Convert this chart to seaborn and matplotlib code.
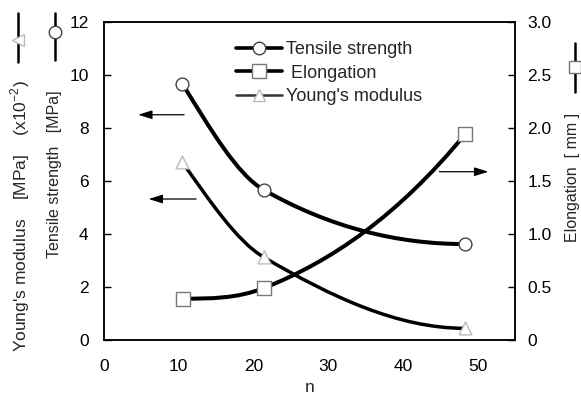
import matplotlib
matplotlib.use("Agg")
import matplotlib.pyplot as plt
import numpy as np
import seaborn as sns
from matplotlib.path import Path
from matplotlib.patches import PathPatch
from matplotlib.lines import Line2D

# values
n_tensile = [10.5, 21.4, 48.3]
tensile_strength = [9.66, 5.66, 3.62]      # MPa
n_young = [10.5, 21.4, 48.3]
youngs_modulus = [6.70, 3.12, 0.44]        # MPa x10^-2
n_elong = [10.6, 21.4, 48.3]
elongation = [0.39, 0.49, 1.94]            # mm

x_ticks = [0, 10, 20, 30, 40, 50]
left_ticks = [0, 2, 4, 6, 8, 10, 12]
right_ticks = [0, 0.5, 1.0, 1.5, 2.0, 2.5, 3.0]
right_tick_labels = ["0", "0.5", "1.0", "1.5", "2.0", "2.5", "3.0"]

sns.set_theme(style="white")
plt.rcParams["font.family"] = ["Liberation Sans", "DejaVu Sans"]
plt.rcParams["mathtext.fontset"] = "custom"
plt.rcParams["mathtext.rm"] = "Liberation Sans"


def smooth_path(x, y):
    """Monotone cubic Hermite curve through the points, as a bezier Path."""
    x = np.asarray(x, float)
    y = np.asarray(y, float)
    h = np.diff(x)
    d = np.diff(y) / h
    m = np.zeros_like(y)
    m[1:-1] = (y[2:] - y[:-2]) / (x[2:] - x[:-2])
    m[0] = ((2 * h[0] + h[1]) * d[0] - h[0] * d[1]) / (h[0] + h[1])
    if np.sign(m[0]) != np.sign(d[0]):
        m[0] = 0
    m[-1] = ((2 * h[-1] + h[-2]) * d[-1] - h[-1] * d[-2]) / (h[-1] + h[-2])
    if np.sign(m[-1]) != np.sign(d[-1]):
        m[-1] = 0
    for i in range(len(d)):
        a, b = m[i] / d[i], m[i + 1] / d[i]
        if a * a + b * b > 9:
            tau = 3 / np.hypot(a, b)
            m[i], m[i + 1] = tau * a * d[i], tau * b * d[i]
    verts = [(x[0], y[0])]
    codes = [Path.MOVETO]
    for i in range(len(h)):
        verts += [(x[i] + h[i] / 3, y[i] + m[i] * h[i] / 3),
                  (x[i + 1] - h[i] / 3, y[i + 1] - m[i + 1] * h[i] / 3),
                  (x[i + 1], y[i + 1])]
        codes += [Path.CURVE4] * 3
    return Path(verts, codes)


W, H = 581, 398
fig = plt.figure(figsize=(W / 100, H / 100), dpi=100)
ax = fig.add_axes([104 / W, 1 - 340 / H, 411 / W, 318 / H])
ax2 = ax.twinx()

# curves
ax.add_patch(PathPatch(smooth_path(n_tensile, tensile_strength), fc="none",
                       ec="black", lw=2.9, zorder=3))
ax.add_patch(PathPatch(smooth_path(n_young, youngs_modulus), fc="none",
                       ec="black", lw=2.5, zorder=3))
ax2.add_patch(PathPatch(smooth_path(n_elong, elongation), fc="none",
                        ec="black", lw=2.9, zorder=3))

# markers
sns.scatterplot(x=n_tensile, y=tensile_strength, ax=ax, marker="o", s=85,
                facecolor="white", edgecolor="#444444", linewidth=1, zorder=5)
sns.scatterplot(x=n_young, y=youngs_modulus, ax=ax, marker="^", s=85,
                facecolor="white", edgecolor="#bbbbbb", linewidth=1, zorder=5)
sns.scatterplot(x=n_elong, y=elongation, ax=ax2, marker="s", s=95,
                facecolor="white", edgecolor="#777777", linewidth=1, zorder=5)

ax.set_xlim(0, 55)
ax.set_ylim(0, 12)
ax2.set_ylim(0, 3)
ax.set_xticks(x_ticks)
ax.set_yticks(left_ticks)
ax2.set_yticks(right_ticks)
ax2.set_yticklabels(right_tick_labels)

for a in (ax, ax2):
    for sp in a.spines.values():
        sp.set_linewidth(1.1)
        sp.set_color("black")
ax.tick_params(axis="both", direction="in", length=5, width=1, labelsize=12.5,
               colors="black", top=False, right=False)
ax.tick_params(axis="x", pad=14)
ax.tick_params(axis="y", pad=11)
ax2.tick_params(axis="y", direction="in", length=5, width=1, labelsize=12.5,
                colors="black", pad=9)
ax.set_xlabel("n", fontsize=12.5, labelpad=4)

# arrows pointing at the matching axis
arrow = dict(arrowstyle="-|>,head_length=0.7,head_width=0.22", color="black",
             lw=0.9)
ax.annotate("", xy=(4.2, 8.5), xytext=(11.1, 8.5), arrowprops=arrow)
ax.annotate("", xy=(5.6, 5.32), xytext=(12.7, 5.32), arrowprops=arrow)
ax.annotate("", xy=(51.8, 6.35), xytext=(44.5, 6.35), arrowprops=arrow)

# legend
handles = [
    Line2D([], [], color="black", lw=2.6, marker="o", ms=9, mfc="white",
           mec="#444444", mew=1),
    Line2D([], [], color="black", lw=2.6, marker="s", ms=9.5, mfc="white",
           mec="#777777", mew=1),
    Line2D([], [], color="#333333", lw=1.8, marker="^", ms=9, mfc="white",
           mec="#bbbbbb", mew=1),
]
ax.legend(handles, ["Tensile strength", " Elongation", "Young's modulus"],
          loc="upper left", bbox_to_anchor=(0.322, 0.94), frameon=False,
          fontsize=13, handlelength=2.55, handletextpad=0.22, labelspacing=0.36,
          borderpad=0, borderaxespad=0)

# axis titles with their symbols
fig.text(20 / W, 1 - 216 / H,
         "Young's modulus    [MPa]    (x10$^{\\mathregular{-2}}$)",
         rotation=90, ha="center", va="center", fontsize=12.5)
fig.text(55 / W, 1 - 174 / H, "Tensile strength   [MPa]", rotation=90,
         ha="center", va="center", fontsize=11.5)
fig.text(572 / W, 1 - 177 / H, "Elongation  [ mm ]", rotation=90,
         ha="center", va="center", fontsize=11.5)

for px, (top, mid, bot), mk, ec in [(18, (13, 40, 62), "<", "#bbbbbb"),
                                     (55, (13, 32, 60), "o", "#444444"),
                                     (575, (43, 67, 92), "s", "#777777")]:
    fig.add_artist(Line2D([px / W] * 3, [1 - top / H, 1 - mid / H, 1 - bot / H],
                          transform=fig.transFigure, color="black", lw=1.8,
                          marker=mk, markevery=[1], ms=9, mfc="white", mec=ec,
                          mew=1))

fig.savefig("out.png", dpi=100)
